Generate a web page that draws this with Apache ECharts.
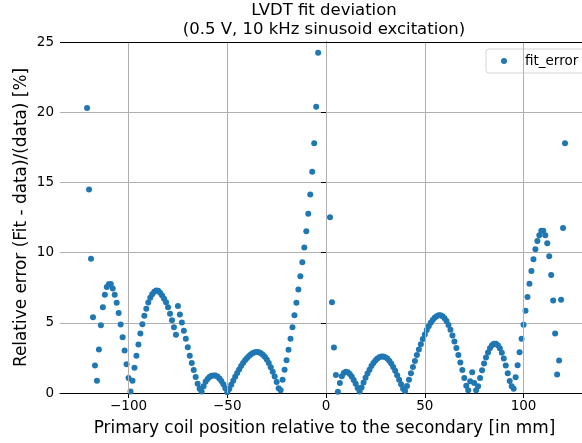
<!DOCTYPE html>
<html>
<head>
<meta charset="utf-8">
<script src="https://cdn.jsdelivr.net/npm/echarts@6/dist/echarts.min.js"></script>
<style>
  html, body { margin: 0; padding: 0; background: #fff; }
  #chart { width: 582px; height: 443px; }
</style>
</head>
<body>
<div id="chart"></div>
<script>
// primary coil position [mm], sampled every 1 mm (points near 0 are off the chart)
function span(a, b) {
  var out = []
  for (var v = a; v <= b; v++) out.push(v)
  return out
}
var leftPositions = span(-121, -4)
var rightPositions = span(2, 121)

// relative fit error [%]
var leftErrors = [
  20.3, 14.5, 9.57, 5.4, 1.95, 0.88, 3.1, 4.83, 6.1, 7.0,
  7.55, 7.74, 7.76, 7.45, 7.0, 6.43, 5.69, 4.88, 3.97, 3.02,
  2.05, 1.07, 0.1, 0.88, 1.79, 2.65, 3.46, 4.24, 4.89, 5.5,
  6.0, 6.44, 6.79, 7.04, 7.22, 7.3, 7.28, 7.14, 6.95, 6.71,
  6.47, 6.1, 5.64, 5.19, 4.69, 4.14, 6.19, 5.6, 5.02, 4.43,
  3.86, 3.26, 2.66, 2.14, 1.64, 1.14, 0.66, 0.31, 0.1, 0.48,
  0.8, 1.0, 1.14, 1.22, 1.25, 1.24, 1.17, 1.04, 0.86, 0.62,
  0.34, 0.06, 0.28, 0.58, 0.88, 1.16, 1.43, 1.68, 1.92, 2.14,
  2.33, 2.5, 2.64, 2.76, 2.85, 2.9, 2.92, 2.9, 2.84, 2.73,
  2.58, 2.38, 2.13, 1.84, 1.52, 1.18, 0.78, 0.34, 0.2, 0.95,
  1.66, 2.33, 3.08, 3.86, 4.69, 5.53, 6.43, 7.37, 8.31, 9.32,
  10.36, 11.52, 12.76, 14.14, 15.76, 17.78, 20.38, 24.24
]
var rightErrors = [
  12.52, 6.47, 3.24, 1.28, 0.09, 0.71, 1.19, 1.43, 1.52, 1.48,
  1.36, 1.17, 0.93, 0.65, 0.35, 0.1, 0.4, 0.75, 1.08, 1.38,
  1.66, 1.92, 2.14, 2.32, 2.46, 2.55, 2.6, 2.6, 2.55, 2.45,
  2.3, 2.1, 1.86, 1.58, 1.27, 0.95, 0.62, 0.3, 0.15, 0.5,
  0.95, 1.4, 1.85, 2.28, 2.7, 3.1, 3.48, 3.84, 4.17, 4.48,
  4.76, 5.0, 5.2, 5.36, 5.47, 5.53, 5.53, 5.46, 5.33, 5.13,
  4.85, 4.5, 4.1, 3.66, 3.2, 2.7, 2.18, 1.64, 1.07, 0.52,
  0.2, 0.83, 1.47, 0.71, 0.19, 0.48, 1.07, 1.62, 2.1, 2.52,
  2.88, 3.18, 3.4, 3.5, 3.5, 3.4, 3.18, 2.86, 2.45, 1.95,
  1.4, 0.85, 0.48, 0.31, 1.12, 1.98, 2.9, 3.86, 4.86, 5.86,
  6.83, 7.79, 8.69, 9.52, 10.24, 10.83, 11.24, 11.55, 11.55, 11.24,
  10.66, 9.74, 8.4, 6.59, 4.24, 1.31, 2.31, 6.64, 11.76, 17.79
]

var xTicks = [-100, -50, 0, 50, 100]

var points = []
leftPositions.forEach(function (x, i) { points.push([x, leftErrors[i]]) })
rightPositions.forEach(function (x, i) { points.push([x, rightErrors[i]]) })

var font = 'DejaVu Sans'
var gridColor = '#b0b0b0'
var minus = function (v) { return String(v).replace('-', '\u2212') }

var myChart = echarts.init(document.getElementById('chart'), null, { renderer: 'canvas' })
myChart.setOption({
  animation: false,
  backgroundColor: '#fff',
  textStyle: { fontFamily: font },
  graphic: [
    {
      type: 'text', x: 324, y: 1,
      style: {
        text: 'LVDT fit deviation\n(0.5 V, 10 kHz sinusoid excitation)',
        fill: '#000', font: '16.5px DejaVu Sans', textAlign: 'center', lineHeight: 19
      }
    },
    // top spine
    {
      type: 'line', shape: { x1: 60, y1: 42.5, x2: 582, y2: 42.5 },
      style: { stroke: '#000', lineWidth: 1 }, z: 10
    }
  ],
  legend: {
    left: 486, top: 49,
    padding: [5, 40, 5, 15],
    itemWidth: 32, itemHeight: 6,
    icon: 'circle',
    borderColor: '#d5d5d5', borderWidth: 1, borderRadius: 3,
    textStyle: { fontFamily: font, fontSize: 13.5, color: '#000' },
    data: ['fit_error']
  },
  // the plot runs on past the right edge of the picture
  grid: { left: 60, top: 42, right: 0, height: 351 },
  xAxis: {
    type: 'value', min: -134.7, max: 129.6,
    name: 'Primary coil position relative to the secondary [in mm]',
    nameLocation: 'middle', nameGap: 27,
    nameTextStyle: { fontFamily: font, fontSize: 16.9, color: '#000', padding: [0, 0, 0, 7] },
    axisLine: { onZero: false, lineStyle: { color: '#000', width: 1 } },
    axisTick: { customValues: xTicks, length: 5, lineStyle: { color: '#000' } },
    axisLabel: {
      customValues: xTicks,
      fontFamily: font, fontSize: 13.5, color: '#000', margin: 6,
      formatter: minus
    },
    splitLine: { show: false }
  },
  yAxis: {
    type: 'value', min: 0, max: 25, interval: 5,
    name: 'Relative error (Fit - data)/(data) [%]',
    nameLocation: 'middle', nameGap: 30, nameMoveOverlap: false,
    nameTextStyle: { fontFamily: font, fontSize: 16.9, color: '#000' },
    axisLine: { show: true, lineStyle: { color: '#000', width: 1 } },
    axisTick: { show: true, length: 5, lineStyle: { color: '#000' } },
    axisLabel: { fontFamily: font, fontSize: 13.5, color: '#000', margin: 6 },
    splitLine: { show: true, lineStyle: { color: gridColor, width: 1 } }
  },
  series: [
    {
      // carries the vertical grid lines, kept under the points
      type: 'line', data: [], silent: true, z: 1,
      markLine: {
        silent: true, symbol: 'none', label: { show: false },
        lineStyle: { color: gridColor, width: 1, type: 'solid' },
        data: xTicks.map(function (v) { return { xAxis: v } })
      }
    },
    {
      name: 'fit_error',
      type: 'scatter',
      symbol: 'circle',
      symbolSize: 6,
      z: 3,
      itemStyle: { color: '#1f77b4', opacity: 1 },
      data: points
    }
  ]
})
</script>
</body>
</html>
